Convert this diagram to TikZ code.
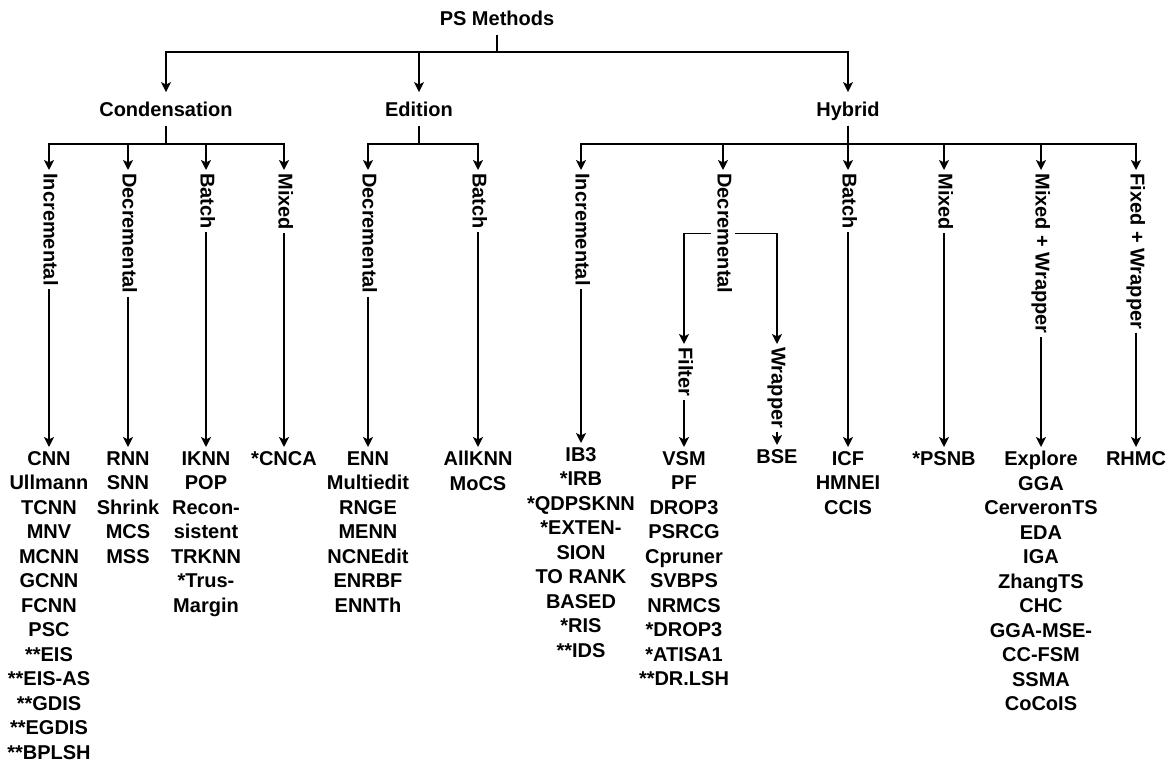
\documentclass[tikz,border=0pt]{standalone}
\usepackage{fontspec}
\setmainfont{Liberation Sans}
\usetikzlibrary{arrows.meta}
\tikzset{
  % Family heading (horizontal text).
  head/.style={
    font=\bfseries\fontsize{10}{12.25}\selectfont,
    inner xsep=1pt, inner ysep=2pt,
    text height=1em, text depth=0.25em,
  },
  % Sub-category label sitting on its own connector.
  branch/.style={
    font=\bfseries\fontsize{10}{12.25}\selectfont,
    rotate=-90, anchor=west,
    inner xsep=1.5pt, inner ysep=1pt,
    text height=0.75em, text depth=0.2em,
  },
  % Stack of method names.
  leaves/.style={
    font=\bfseries\fontsize{10}{12.25}\selectfont,
    align=center, anchor=north, inner sep=2pt,
  },
  % Connectors.
  link/.style={line width=0.8pt, draw=black},
  flow/.style={link, -{Stealth[length=5pt, width=5pt, inset=1.2pt]}},
}
\begin{document}
\begin{tikzpicture}[x=0.5pt, y=-0.5pt]
  \useasboundingbox (0,0) rectangle (1174,765);

  % Root and the three families.
  \node[head] (root) at (497,18)  {PS Methods};
  \node[head] (cond) at (166,109) {Condensation};
  \node[head] (edit) at (419,109) {Edition};
  \node[head] (hyb)  at (848,109) {Hybrid};
  \coordinate (rootbar) at (497,52);
  \foreach \f in {cond,edit,hyb}
    \draw[flow] (root.south) -- (rootbar) -| (\f.north);

  % Condensation.
  \coordinate (condbar) at (166,144);
  \node[branch] (cinc) at (49,170)  {Incremental};
  \node[branch] (cdec) at (128,170) {Decremental};
  \node[branch] (cbat) at (206,170) {Batch};
  \node[branch] (cmix) at (284,170) {Mixed};
  \node[leaves] (cinc-l) at (49,447) {CNN\\Ullmann\\TCNN\\MNV\\MCNN\\GCNN\\FCNN\\PSC\\**EIS\\**EIS-AS\\**GDIS\\**EGDIS\\**BPLSH};
  \node[leaves] (cdec-l) at (128,447) {RNN\\SNN\\Shrink\\MCS\\MSS};
  \node[leaves] (cbat-l) at (206,447) {IKNN\\POP\\Recon-\\sistent\\TRKNN\\*Trus-\\Margin};
  \node[leaves] (cmix-l) at (284,447) {*CNCA};
  \foreach \b in {cinc,cdec,cbat,cmix} {
    \draw[flow] (cond.south) -- (condbar) -| (\b.west);
    \draw[flow] (\b.east) -- (\b-l.north);
  }

  % Edition.
  \coordinate (editbar) at (419,144);
  \node[branch] (edec) at (368,170) {Decremental};
  \node[branch] (ebat) at (478,170) {Batch};
  \node[leaves] (edec-l) at (368,447) {ENN\\Multiedit\\RNGE\\MENN\\NCNEdit\\ENRBF\\ENNTh};
  \node[leaves] (ebat-l) at (478,447) {AllKNN\\MoCS};
  \foreach \b in {edec,ebat} {
    \draw[flow] (edit.south) -- (editbar) -| (\b.west);
    \draw[flow] (\b.east) -- (\b-l.north);
  }

  % Hybrid.
  \coordinate (hybbar) at (848,144);
  \node[branch] (hinc) at (581,170)  {Incremental};
  \node[branch] (hdec) at (723,170)  {Decremental};
  \node[branch] (hbat) at (848,170)  {Batch};
  \node[branch] (hmix) at (944,170)  {Mixed};
  \node[branch] (hmw)  at (1041,170) {Mixed + Wrapper};
  \node[branch] (hfw)  at (1136,170) {Fixed + Wrapper};
  \node[branch] (hfil) at (684,344)  {Filter};
  \node[branch] (hwrp) at (777,344)  {Wrapper};
  \node[leaves] (hinc-l) at (581,443) {IB3\\*IRB\\*QDPSKNN\\*EXTEN-\\SION\\TO RANK\\BASED\\*RIS\\**IDS};
  \node[leaves] (hfil-l) at (684,447) {VSM\\PF\\DROP3\\PSRCG\\Cpruner\\SVBPS\\NRMCS\\*DROP3\\*ATISA1\\**DR.LSH};
  \node[leaves] (hwrp-l) at (777,445) {BSE};
  \node[leaves] (hbat-l) at (848,447) {ICF\\HMNEI\\CCIS};
  \node[leaves] (hmix-l) at (944,447) {*PSNB};
  \node[leaves] (hmw-l)  at (1041,447) {Explore\\GGA\\CerveronTS\\EDA\\IGA\\ZhangTS\\CHC\\GGA-MSE-\\CC-FSM\\SSMA\\CoCoIS};
  \node[leaves] (hfw-l)  at (1136,447) {RHMC};
  \foreach \b in {hinc,hdec,hbat,hmix,hmw,hfw}
    \draw[flow] (hyb.south) -- (hybbar) -| (\b.west);
  \draw[flow] (hdec.south) -| (hfil.west);
  \draw[flow] (hdec.north) -| (hwrp.west);
  \foreach \b in {hinc,hfil,hwrp,hbat,hmix,hmw,hfw}
    \draw[flow] (\b.east) -- (\b-l.north);

\end{tikzpicture}
\end{document}
